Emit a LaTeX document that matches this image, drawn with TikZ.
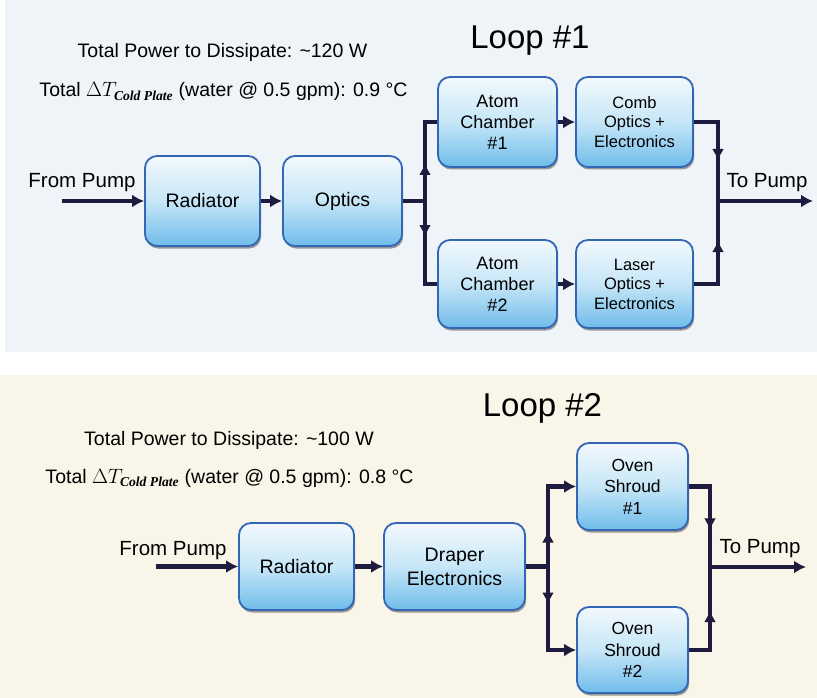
\documentclass[tikz,border=0pt]{standalone}
\usepackage{fontspec}
\usepackage{amsmath}
\setmainfont{Liberation Sans}
\newfontfamily\serifcb{Liberation Serif}
\usetikzlibrary{arrows.meta,shadows,decorations.markings}
\definecolor{bgtop}{HTML}{EEF4F8}
\definecolor{bgbot}{HTML}{F9F5E8}
\definecolor{boxtop}{HTML}{F2F9FD}
\definecolor{boxmid}{HTML}{C6E6F7}
\definecolor{boxbot}{HTML}{6FBCEA}
\definecolor{boxedge}{HTML}{3366B5}
\definecolor{pipec}{HTML}{1F1B3E}
\tikzset{
  blk/.style={draw=boxedge, line width=1.8pt, rounded corners=12pt,
    top color=boxtop, bottom color=boxbot, middle color=boxmid,
    align=center, inner sep=2pt, text=black,
    drop shadow={shadow xshift=1.2pt, shadow yshift=-2.5pt, fill=black!70, opacity=0.55}},
  pipe/.style={draw=pipec, line width=4.5pt},
  arr/.style={-{Latex[length=12pt,width=13pt]}},
  markat/.style={postaction={decorate}, decoration={markings,
    mark=at position #1 with {\arrow{Latex[length=12pt,width=12pt]}}}},
  big/.style={font=\fontsize{19.5}{23}\selectfont},
  title/.style={font=\fontsize{33}{38}\selectfont, anchor=base},
}
\begin{document}
\begin{tikzpicture}[x=1pt,y=-1pt]
\useasboundingbox (0,0) rectangle (817,698);
\fill[white] (0,0) rectangle (817,698);
\fill[bgtop] (5,0) rectangle (817,352);
\fill[bgbot] (0,375) rectangle (817,698);

% ---------------- Loop 1 ----------------
\node[title] (l1) at (530,49) {Loop \#1};
\node[big, anchor=base] (tp1) at (222.5,58) {Total Power to Dissipate: \textasciitilde120 W};
\node[big, anchor=base] (dt1) at (223.5,97) {Total $\Delta T_{\text{\serifcb\bfseries\itshape Cold Plate}}$ (water @ 0.5 gpm): 0.9 °C};

\node[blk, minimum width=115pt, minimum height=90pt, font=\fontsize{19.5}{23}\selectfont] (rad1) at (202.5,201) {Radiator};
\node[blk, minimum width=119pt, minimum height=90pt, font=\fontsize{19.5}{23}\selectfont] (opt1) at (342.5,201) {Optics};
\node[blk, minimum width=119pt, minimum height=90pt, font=\fontsize{18}{21}\selectfont] (ac1) at (497.5,122) {Atom\\Chamber\\\#1};
\node[blk, minimum width=117pt, minimum height=90pt, font=\fontsize{16.5}{19.5}\selectfont] (comb) at (634.5,122) {Comb\\Optics +\\Electronics};
\node[blk, minimum width=119pt, minimum height=88pt, font=\fontsize{18}{21}\selectfont] (ac2) at (497.5,284) {Atom\\Chamber\\\#2};
\node[blk, minimum width=117pt, minimum height=88pt, font=\fontsize{16.5}{19.5}\selectfont] (laser) at (634.5,284) {Laser\\Optics +\\Electronics};

\node[anchor=base, font=\fontsize{20.5}{24}\selectfont] (fp1) at (82,188) {From Pump};
\node[anchor=base, font=\fontsize{20.5}{24}\selectfont] (tpu1) at (767,188) {To Pump};

\coordinate (f1) at (62,201);
\coordinate (s1) at (425,201);
\coordinate (j1) at (718,201);
\coordinate (e1) at (813,201);

\draw[pipe, arr] (f1) -- (rad1.west);
\draw[pipe, arr] (rad1.east) -- (opt1.west);
\draw[pipe] (opt1.east) -- (s1);
\draw[pipe, line join=miter, markat=38pt] (s1) |- (ac1.west);
\draw[pipe, line join=miter, markat=36pt] (s1) |- (ac2.west);
\draw[pipe, arr] (ac1.east) -- (comb.west);
\draw[pipe, arr] (ac2.east) -- (laser.west);
\draw[pipe, line join=miter, markat=63pt] (comb.east) -| (j1);
\draw[pipe, line join=miter, markat=68pt] (laser.east) -| (j1);
\draw[pipe, arr] (j1) -- (e1);

% ---------------- Loop 2 ----------------
\node[title] (l2) at (542.5,416) {Loop \#2};
\node[big, anchor=base] (tp2) at (229,445) {Total Power to Dissipate: \textasciitilde100 W};
\node[big, anchor=base] (dt2) at (229.5,483) {Total $\Delta T_{\text{\serifcb\bfseries\itshape Cold Plate}}$ (water @ 0.5 gpm): 0.8 °C};

\node[blk, minimum width=115pt, minimum height=87pt, font=\fontsize{19.5}{23}\selectfont] (rad2) at (296.5,566.5) {Radiator};
\node[blk, minimum width=141pt, minimum height=87pt, font=\fontsize{19.5}{24}\selectfont] (drap) at (454.5,566.5) {Draper\\Electronics};
\node[blk, minimum width=111pt, minimum height=87pt, font=\fontsize{17.5}{21.5}\selectfont] (ov1) at (632.5,486.5) {Oven\\Shroud\\\#1};
\node[blk, minimum width=111pt, minimum height=86pt, font=\fontsize{17.5}{21.5}\selectfont] (ov2) at (632.5,650) {Oven\\Shroud\\\#2};

\node[anchor=base, font=\fontsize{20.5}{24}\selectfont] (fp2) at (173,555) {From Pump};
\node[anchor=base, font=\fontsize{20.5}{24}\selectfont] (tpu2) at (760,553) {To Pump};

\coordinate (f2) at (156,566.5);
\coordinate (s2) at (548,566.5);
\coordinate (j2) at (710,567);
\coordinate (e2) at (806,567);

\draw[pipe, arr] (f2) -- (rad2.west);
\draw[pipe, arr] (rad2.east) -- (drap.west);
\draw[pipe] (drap.east) -- (s2);
\draw[pipe, arr, line join=miter, markat=36pt] (s2) |- (ov1.west);
\draw[pipe, arr, line join=miter, markat=38pt] (s2) |- (ov2.west);
\draw[pipe, line join=miter, markat=65pt] (ov1.east) -| (j2);
\draw[pipe, line join=miter, markat=61pt] (ov2.east) -| (j2);
\draw[pipe, arr] (j2) -- (e2);
\end{tikzpicture}
\end{document}
